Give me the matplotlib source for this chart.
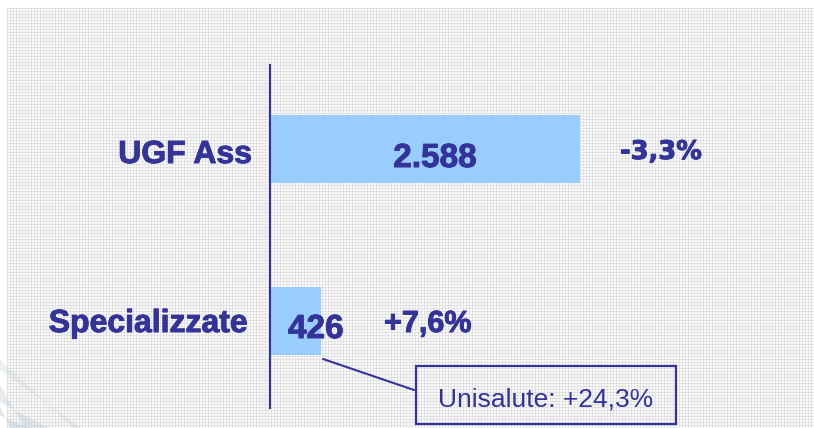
import numpy as np
import matplotlib
matplotlib.use("Agg")
import matplotlib.pyplot as plt
from matplotlib import transforms
from matplotlib import patheffects as pe
from matplotlib.patches import Rectangle, Polygon

# ---- data ----
categories = ["UGF Ass", "Specializzate"]
values = [2588, 426]
value_labels = ["2.588", "426"]
growth_labels = ["-3,3%", "+7,6%"]
note_label = "Unisalute: +24,3%"

# ---- style ----
TXT = "#333399"
BAR = "#99CCFF"
W, H, DPI = 814, 428, 100

fig = plt.figure(figsize=(W / DPI, H / DPI), dpi=DPI)

# background texture (fine grey grid)
bg = fig.add_axes([0, 0, 1, 1], zorder=0)
tex = np.ones((H, W))
sub = tex[8:, 7:]
sub[:] = 0.975
sub[::3, :] = 0.90
sub[:, ::3] = 0.90
sub[::3, ::3] = 0.85
bg.imshow(tex, cmap="gray", vmin=0, vmax=1, interpolation="nearest", aspect="auto")
bg.set_axis_off()

# swoosh decoration bottom-left
for pts, a in [([(0, 0.10), (0.03, 0.0), (0.06, 0.0), (0.0, 0.06)], 0.35),
               ([(0, 0.05), (0.012, 0.0), (0.035, 0.0), (0.0, 0.03)], 0.45),
               ([(0, 0.16), (0.09, 0.0), (0.10, 0.0), (0.0, 0.135)], 0.25)]:
    fig.patches.append(Polygon(pts, closed=True, transform=fig.transFigure,
                               facecolor="#b8cad6", edgecolor="none", alpha=a, zorder=0.5))

# main axes covering whole figure; axis origin at x=270px
ax = fig.add_axes([0, 0, 1, 1], zorder=1)
ax.patch.set_alpha(0)
ax.set_axis_off()
ppu = 310 / values[0]  # pixels per unit
ax.set_xlim(-270 / ppu, (W - 270) / ppu)
ypx = [149, 321]
upx = ypx[1] - ypx[0]
ax.set_ylim(1 + (H - ypx[1]) / upx, -ypx[0] / upx)

pos = np.arange(len(categories))
bar_h = 68 / upx
ax.barh(pos, values, height=bar_h, color=BAR, edgecolor="none", zorder=2)

# axis line
ax.axvline(0, ymin=1 - 408 / H, ymax=1 - 65 / H, color=TXT, lw=1.5, zorder=3)

heavy = [pe.Stroke(linewidth=0.7, foreground=TXT), pe.Normal()]
bold = dict(family="Liberation Sans", weight="bold", color=TXT, path_effects=heavy)

# category labels
cat_off = [(-18, -14), (-22, -11)]
for i, (c, off) in enumerate(zip(categories, cat_off)):
    ax.annotate(c, xy=(0, pos[i]), xytext=off, textcoords="offset pixels",
                ha="right", va="baseline", fontsize=23, zorder=4, **bold)

# value labels
ax.annotate(value_labels[0], xy=(values[0] / 2, pos[0]), xytext=(10, -18),
            textcoords="offset pixels", ha="center", va="baseline",
            fontsize=24, zorder=4, **bold)
ax.annotate(value_labels[1], xy=(0, pos[1]), xytext=(18, -17),
            textcoords="offset pixels", ha="left", va="baseline",
            fontsize=24, zorder=4, **bold)

# growth labels
ax.annotate(growth_labels[0], xy=(values[0], pos[0]), xytext=(40, -10),
            textcoords="offset pixels", ha="left", va="baseline",
            fontsize=18.5, family="DejaVu Sans", weight="bold", color=TXT,
            path_effects=heavy, zorder=4)
ax.annotate(growth_labels[1], xy=(values[1], pos[1]), xytext=(63, -11),
            textcoords="offset pixels", ha="left", va="baseline",
            fontsize=22, zorder=4, **bold)

# callout for Unisalute
fig.canvas.draw()
anchor = (values[1], pos[1] + bar_h / 2)
ax_d = ax.transData.transform(anchor)

def off(dx, dy):
    return transforms.offset_copy(ax.transData, fig=fig, x=dx, y=dy, units="dots")

ax.annotate("", xy=anchor, xycoords=off(2, -4), xytext=anchor, textcoords=off(93, -35),
            arrowprops=dict(arrowstyle="-", color=TXT, lw=1.5, shrinkA=0, shrinkB=0),
            zorder=4)
ax.add_patch(Rectangle((ax_d[0] + 95, ax_d[1] - 69), 260, 58,
                       transform=transforms.IdentityTransform(),
                       facecolor="none", edgecolor=TXT, lw=1.6, zorder=4, clip_on=False))
ax.text(anchor[0], anchor[1], note_label, transform=off(225, -51),
        ha="center", va="baseline", fontsize=19, family="Liberation Sans",
        color=TXT, zorder=5)

fig.savefig("out.png", dpi=DPI)
